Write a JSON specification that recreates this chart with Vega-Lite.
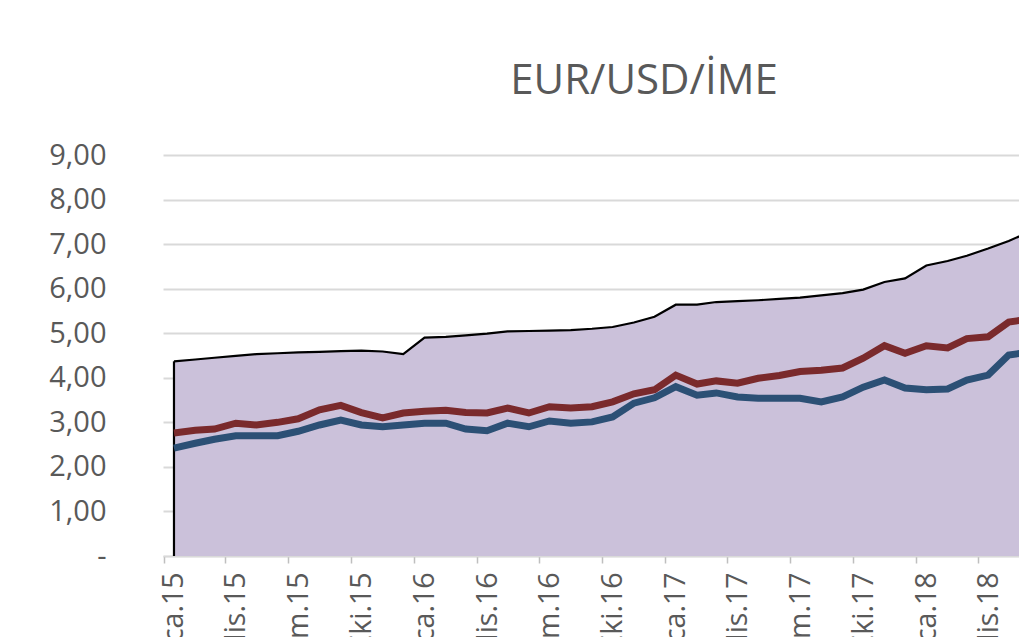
{
  "$schema": "https://vega.github.io/schema/vega-lite/v6.json",
  "autosize": {"type": "none"},
  "width": 856,
  "height": 401,
  "padding": {"left": 163, "top": 155, "right": 0, "bottom": 81},
  "background": "white",
  "title": {
    "text": "EUR/USD/İME",
    "font": "Open Sans",
    "fontSize": 42,
    "fontWeight": "normal",
    "color": "#595959",
    "anchor": "middle",
    "dx": 53,
    "offset": 38
  },
  "config": {
    "view": {"stroke": null},
    "axis": {"labelFont": "Open Sans", "labelColor": "#595959", "labelFontSize": 27}
  },
  "data": {
    "values": [
      {"date": "2015-01-01", "ime": 4.37, "eur": 2.76, "usd": 2.42},
      {"date": "2015-02-01", "ime": 4.41, "eur": 2.82, "usd": 2.53},
      {"date": "2015-03-01", "ime": 4.45, "eur": 2.85, "usd": 2.62},
      {"date": "2015-04-01", "ime": 4.49, "eur": 2.98, "usd": 2.7},
      {"date": "2015-05-01", "ime": 4.53, "eur": 2.94, "usd": 2.7},
      {"date": "2015-06-01", "ime": 4.55, "eur": 3.0, "usd": 2.7},
      {"date": "2015-07-01", "ime": 4.57, "eur": 3.08, "usd": 2.8},
      {"date": "2015-08-01", "ime": 4.58, "eur": 3.28, "usd": 2.94},
      {"date": "2015-09-01", "ime": 4.6, "eur": 3.38, "usd": 3.05},
      {"date": "2015-10-01", "ime": 4.61, "eur": 3.22, "usd": 2.94},
      {"date": "2015-11-01", "ime": 4.59, "eur": 3.1, "usd": 2.9},
      {"date": "2015-12-01", "ime": 4.53, "eur": 3.21, "usd": 2.94},
      {"date": "2016-01-01", "ime": 4.9, "eur": 3.25, "usd": 2.98},
      {"date": "2016-02-01", "ime": 4.92, "eur": 3.27, "usd": 2.98},
      {"date": "2016-03-01", "ime": 4.95, "eur": 3.22, "usd": 2.85},
      {"date": "2016-04-01", "ime": 4.99, "eur": 3.21, "usd": 2.81},
      {"date": "2016-05-01", "ime": 5.04, "eur": 3.32, "usd": 2.98},
      {"date": "2016-06-01", "ime": 5.05, "eur": 3.21, "usd": 2.9},
      {"date": "2016-07-01", "ime": 5.06, "eur": 3.35, "usd": 3.03},
      {"date": "2016-08-01", "ime": 5.07, "eur": 3.32, "usd": 2.98},
      {"date": "2016-09-01", "ime": 5.1, "eur": 3.35, "usd": 3.01},
      {"date": "2016-10-01", "ime": 5.14, "eur": 3.46, "usd": 3.12},
      {"date": "2016-11-01", "ime": 5.24, "eur": 3.64, "usd": 3.43},
      {"date": "2016-12-01", "ime": 5.37, "eur": 3.73, "usd": 3.55},
      {"date": "2017-01-01", "ime": 5.64, "eur": 4.06, "usd": 3.8},
      {"date": "2017-02-01", "ime": 5.64, "eur": 3.86, "usd": 3.61},
      {"date": "2017-03-01", "ime": 5.7, "eur": 3.93, "usd": 3.66},
      {"date": "2017-04-01", "ime": 5.72, "eur": 3.88, "usd": 3.57},
      {"date": "2017-05-01", "ime": 5.74, "eur": 3.99, "usd": 3.54},
      {"date": "2017-06-01", "ime": 5.77, "eur": 4.05, "usd": 3.54},
      {"date": "2017-07-01", "ime": 5.8, "eur": 4.14, "usd": 3.54},
      {"date": "2017-08-01", "ime": 5.85, "eur": 4.17, "usd": 3.46},
      {"date": "2017-09-01", "ime": 5.9, "eur": 4.22, "usd": 3.57},
      {"date": "2017-10-01", "ime": 5.98, "eur": 4.44, "usd": 3.79},
      {"date": "2017-11-01", "ime": 6.15, "eur": 4.72, "usd": 3.95},
      {"date": "2017-12-01", "ime": 6.23, "eur": 4.55, "usd": 3.77},
      {"date": "2018-01-01", "ime": 6.52, "eur": 4.72, "usd": 3.73},
      {"date": "2018-02-01", "ime": 6.62, "eur": 4.67, "usd": 3.75},
      {"date": "2018-03-01", "ime": 6.74, "eur": 4.88, "usd": 3.95},
      {"date": "2018-04-01", "ime": 6.9, "eur": 4.92, "usd": 4.06},
      {"date": "2018-05-01", "ime": 7.07, "eur": 5.25, "usd": 4.51},
      {"date": "2018-06-01", "ime": 7.28, "eur": 5.32, "usd": 4.58}
    ]
  },
  "encoding": {
    "x": {
      "field": "date",
      "type": "temporal",
      "scale": {
        "type": "utc",
        "domain": [
          {"year": 2014, "month": 12, "date": 16, "utc": true},
          {"year": 2018, "month": 5, "date": 16, "utc": true}
        ]
      },
      "axis": {
        "title": null,
        "values": [
          {"year": 2015, "month": 1, "date": 1, "utc": true},
          {"year": 2015, "month": 4, "date": 1, "utc": true},
          {"year": 2015, "month": 7, "date": 1, "utc": true},
          {"year": 2015, "month": 10, "date": 1, "utc": true},
          {"year": 2016, "month": 1, "date": 1, "utc": true},
          {"year": 2016, "month": 4, "date": 1, "utc": true},
          {"year": 2016, "month": 7, "date": 1, "utc": true},
          {"year": 2016, "month": 10, "date": 1, "utc": true},
          {"year": 2017, "month": 1, "date": 1, "utc": true},
          {"year": 2017, "month": 4, "date": 1, "utc": true},
          {"year": 2017, "month": 7, "date": 1, "utc": true},
          {"year": 2017, "month": 10, "date": 1, "utc": true},
          {"year": 2018, "month": 1, "date": 1, "utc": true},
          {"year": 2018, "month": 4, "date": 1, "utc": true}
        ],
        "labelExpr": "['Oca','Şub','Mar','Nis','May','Haz','Tem','Ağu','Eyl','Eki','Kas','Ara'][utcmonth(datum.value)] + '.' + utcFormat(datum.value, '%y')",
        "labelAngle": -90,
        "labelAlign": "right",
        "labelBaseline": "middle",
        "labelFontSize": 28.5,
        "labelPadding": 9,
        "labelOverlap": false,
        "labelFlush": false,
        "labelBound": false,
        "tickOffset": -10.4,
        "labelOffset": 10.4,
        "tickColor": "#BFBFBF",
        "tickSize": 7,
        "tickWidth": 1.5,
        "domainColor": "#D9D9D9",
        "domainWidth": 1.5,
        "grid": false
      }
    }
  },
  "layer": [
    {
      "mark": {"type": "area", "color": "#CBC1DA", "clip": true},
      "encoding": {
        "y": {
          "field": "ime",
          "type": "quantitative",
          "scale": {"domain": [0, 9], "nice": false, "zero": true},
          "axis": {
            "title": null,
            "values": [0, 1, 2, 3, 4, 5, 6, 7, 8, 9],
            "labelExpr": "datum.value == 0 ? '-\u00a0\u00a0\u00a0' : replace(format(datum.value, '.2f'), '.', ',')",
            "labelFontSize": 29,
            "labelPadding": 57,
            "ticks": false,
            "domain": false,
            "grid": true,
            "gridColor": "#D9D9D9",
            "gridWidth": 1.8
          }
        }
      }
    },
    {
      "transform": [{"filter": "time(datum.date) == utc(2015, 0, 1)"}],
      "mark": {"type": "rule", "color": "black", "strokeWidth": 2.2, "clip": true},
      "encoding": {
        "y": {"field": "ime", "type": "quantitative"},
        "y2": {"datum": 0}
      }
    },
    {
      "mark": {"type": "line", "color": "black", "strokeWidth": 2.2, "clip": true},
      "encoding": {"y": {"field": "ime", "type": "quantitative"}}
    },
    {
      "mark": {"type": "line", "color": "#7A2A2C", "strokeWidth": 7, "clip": true},
      "encoding": {"y": {"field": "eur", "type": "quantitative"}}
    },
    {
      "mark": {"type": "line", "color": "#2C5075", "strokeWidth": 7, "clip": true},
      "encoding": {"y": {"field": "usd", "type": "quantitative"}}
    }
  ]
}
